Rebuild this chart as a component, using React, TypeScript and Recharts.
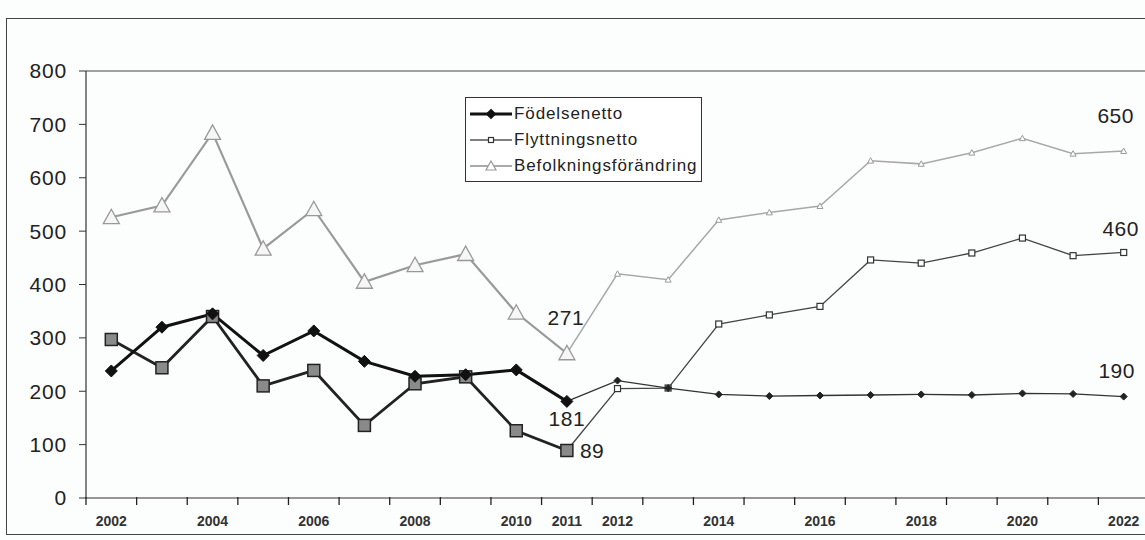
import React from 'react';
import { LineChart, Line, XAxis, YAxis, ReferenceLine, Legend, LabelList } from 'recharts';

// values (corrected for the slight tilt of the page)
const years = ['2002', '2003', '2004', '2005', '2006', '2007', '2008', '2009', '2010', '2011', '2012',
  '2013', '2014', '2015', '2016', '2017', '2018', '2019', '2020', '2021', '2022'];
const shownYears = ['2002', '2004', '2006', '2008', '2010', '2011', '2012', '2014', '2016', '2018', '2020', '2022'];
const yTicks = [0, 100, 200, 300, 400, 500, 600, 700, 800];

const fodelsenetto = [238, 320, 345, 267, 313, 256, 228, 231, 240, 181, 220, 206, 194, 191, 192, 193, 194, 193, 196, 195, 190];
const flyttningsnetto = [297, 244, 340, 210, 239, 136, 214, 227, 126, 89, 205, 206, 326, 343, 359, 446, 440, 459, 487, 454, 460];
const befolkning = [526, 548, 684, 467, 541, 405, 436, 457, 347, 271, 420, 409, 521, 535, 547, 632, 626, 647, 674, 645, 650];

const lastOutcome = '2011'; // thick lines up to here, thin forecast after

const cut = years.indexOf(lastOutcome);
const rows = years.map((year, i) => ({
  year,
  fodH: i <= cut ? fodelsenetto[i] : null,
  fodF: i >= cut ? fodelsenetto[i] : null,
  flyH: i <= cut ? flyttningsnetto[i] : null,
  flyF: i >= cut ? flyttningsnetto[i] : null,
  befH: i <= cut ? befolkning[i] : null,
  befF: i >= cut ? befolkning[i] : null,
}));

const W = 1145;
const H = 540;
const LEFT = 86;
const RIGHT_OVER = 4; // plot runs a little past the picture's right edge
const BAND = (W + RIGHT_OVER - LEFT) / years.length;
const FONT = '"Liberation Sans", Arial, sans-serif';

type Shape = 'diamond' | 'square' | 'triangle';

const marker = (shape: Shape, cx: number, cy: number, r: number, fill: string, stroke: string, sw: number) => {
  if (shape === 'diamond') {
    return <path d={`M${cx},${cy - r}L${cx + r},${cy}L${cx},${cy + r}L${cx - r},${cy}Z`} fill={fill} stroke={stroke} strokeWidth={sw} />;
  }
  if (shape === 'square') {
    return <rect x={cx - r} y={cy - r} width={r * 2} height={r * 2} fill={fill} stroke={stroke} strokeWidth={sw} />;
  }
  return <path d={`M${cx},${cy - r}L${cx + r},${cy + r * 0.8}L${cx - r},${cy + r * 0.8}Z`} fill={fill} stroke={stroke} strokeWidth={sw} />;
};

const makeDot = (shape: Shape, r: number, fill: string, stroke: string, sw: number, skip?: number) =>
  (props: any) => {
    const { cx, cy, index, value } = props;
    if (cx == null || cy == null || value == null || index === skip) return <g key={`n-${index}`} />;
    return <g key={`d-${shape}-${index}`}>{marker(shape, cx, cy, r, fill, stroke, sw)}</g>;
  };

const makeNote = (at: number, dx: number, dy: number, anchor: 'start' | 'middle') => (props: any) => {
  const { x, y, value, index } = props;
  if (index !== at || value == null) return null;
  return (
    <text x={x + dx} y={y + dy} textAnchor={anchor} dominantBaseline="central"
      fontFamily={FONT} fontSize={21} letterSpacing={0.5} fill="#222">
      {value}
    </text>
  );
};

const YearTick = (props: any) => {
  const { x, y, payload } = props;
  return (
    <g>
      <line x1={x - BAND / 2} y1={y - 9} x2={x - BAND / 2} y2={y - 1} stroke="#222" strokeWidth={1.3} />
      {shownYears.includes(payload.value) && (
        <text x={x} y={y + 20} textAnchor="middle" fontFamily={FONT} fontSize={14} fontWeight="bold" fill="#333">
          {payload.value}
        </text>
      )}
    </g>
  );
};

const legendItems = [
  { name: 'Födelsenetto', shape: 'diamond' as Shape, line: '#111', lw: 3, r: 4.5, fill: '#111', stroke: '#111' },
  { name: 'Flyttningsnetto', shape: 'square' as Shape, line: '#555', lw: 1.5, r: 2.5, fill: '#fff', stroke: '#333' },
  { name: 'Befolkningsförändring', shape: 'triangle' as Shape, line: '#aaa', lw: 2, r: 5, fill: '#fff', stroke: '#999' },
];

const LegendBox = () => (
  <div style={{ border: '1.5px solid #333', background: '#fff', padding: '3px 4px 2px 4px', fontFamily: FONT, fontSize: 17, letterSpacing: 0.9, color: '#222' }}>
    {legendItems.map((it) => (
      <div key={it.name} style={{ display: 'flex', alignItems: 'center', height: 26 }}>
        <svg width={42} height={14} style={{ marginRight: 2 }}>
          <line x1={0} y1={7} x2={42} y2={7} stroke={it.line} strokeWidth={it.lw} />
          {marker(it.shape, 21, 7, it.r, it.fill, it.stroke, 1.2)}
        </svg>
        <span>{it.name}</span>
      </div>
    ))}
  </div>
);

export default function App() {
  return (
    <div style={{ position: 'absolute', left: 0, top: 0, width: W, height: H, overflow: 'hidden', background: '#fcfdfd' }}>
      <div style={{ position: 'absolute', left: 6, top: 18, width: W + 20, height: 515, border: '1.5px solid #444' }} />
      <LineChart width={W + RIGHT_OVER} height={H} data={rows} margin={{ top: 71, right: 0, bottom: 12, left: 0 }}>
        <XAxis dataKey="year" interval={0} tickLine={false} tick={<YearTick />} height={30}
          padding={{ left: BAND / 2, right: BAND / 2 }}
          axisLine={{ stroke: '#333', strokeWidth: 1.2 }} />
        <YAxis domain={[0, 800]} ticks={yTicks} width={LEFT} tickSize={7} tickMargin={12}
          axisLine={{ stroke: '#333', strokeWidth: 1.2 }} tickLine={{ stroke: '#333' }}
          tick={{ fontFamily: FONT, fontSize: 21, fill: '#222', letterSpacing: 0.8 }} />
        <ReferenceLine y={800} stroke="#444" strokeWidth={1.2} />
        <Legend layout="vertical" align="center" verticalAlign="middle" content={<LegendBox />}
          wrapperStyle={{ top: 97, left: 465, width: 'auto', height: 'auto' }} />

        <Line dataKey="befF" type="linear" stroke="#a8a8a8" strokeWidth={1.5} isAnimationActive={false}
          dot={makeDot('triangle', 3, '#fff', '#999', 1, cut)} activeDot={false} legendType="none">
          <LabelList dataKey="befF" content={makeNote(years.length - 1, -8, -36, 'middle')} />
        </Line>
        <Line dataKey="flyF" type="linear" stroke="#444" strokeWidth={1.3} isAnimationActive={false}
          dot={makeDot('square', 3, '#fff', '#333', 1.2, cut)} activeDot={false} legendType="none">
          <LabelList dataKey="flyF" content={makeNote(years.length - 1, -3, -24, 'middle')} />
        </Line>
        <Line dataKey="fodF" type="linear" stroke="#333" strokeWidth={1.3} isAnimationActive={false}
          dot={makeDot('diamond', 3.5, '#222', '#222', 1, cut)} activeDot={false} legendType="none">
          <LabelList dataKey="fodF" content={makeNote(years.length - 1, -7, -26, 'middle')} />
        </Line>

        <Line dataKey="befH" type="linear" stroke="#9a9a9a" strokeWidth={2.2} isAnimationActive={false}
          dot={makeDot('triangle', 8, '#f6f6f6', '#999', 1.3)} activeDot={false}>
          <LabelList dataKey="befH" content={makeNote(cut, -1, -36, 'middle')} />
        </Line>
        <Line dataKey="flyH" type="linear" stroke="#222" strokeWidth={2.8} isAnimationActive={false}
          dot={makeDot('square', 6, '#8a8a8a', '#222', 1.5)} activeDot={false}>
          <LabelList dataKey="flyH" content={makeNote(cut, 13, 0, 'start')} />
        </Line>
        <Line dataKey="fodH" type="linear" stroke="#111" strokeWidth={3} isAnimationActive={false}
          dot={makeDot('diamond', 6, '#111', '#111', 1)} activeDot={false}>
          <LabelList dataKey="fodH" content={makeNote(cut, 0, 17, 'middle')} />
        </Line>
      </LineChart>
    </div>
  );
}
